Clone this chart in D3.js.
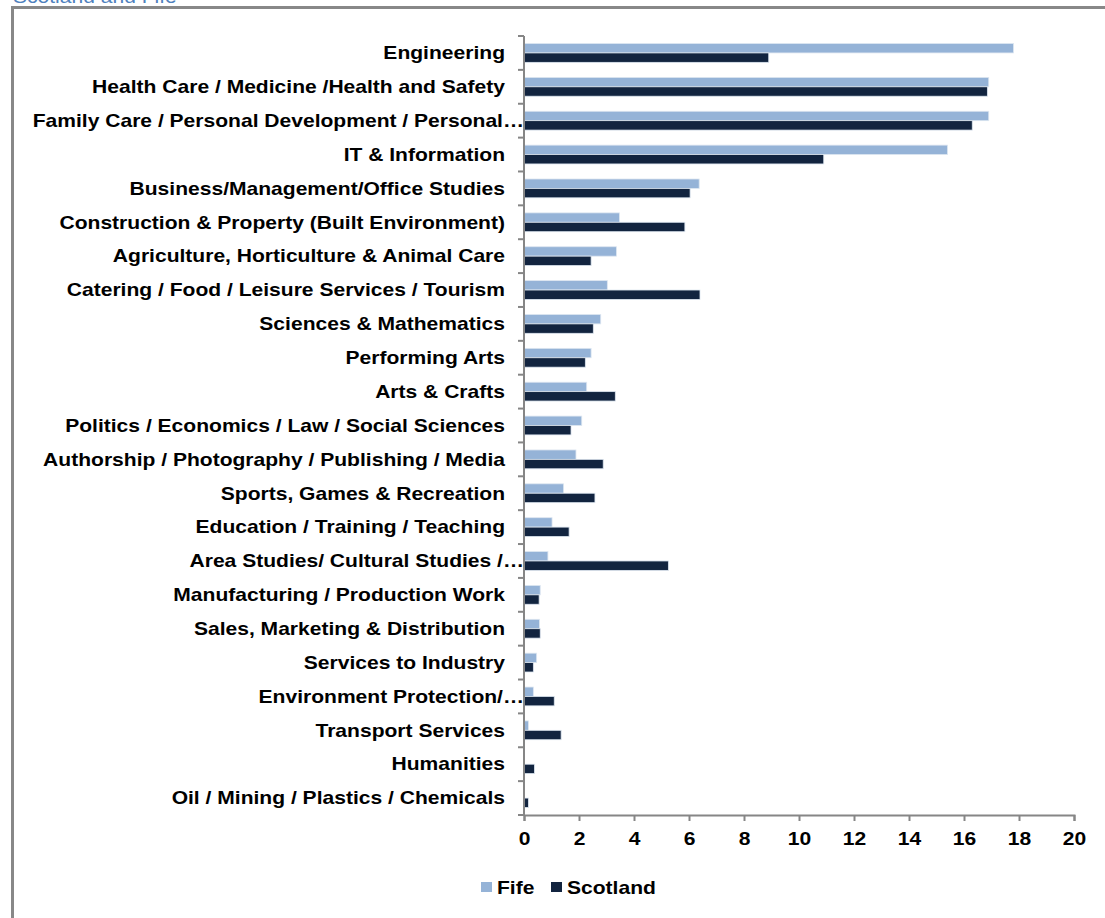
<!DOCTYPE html>
<html>
<head>
<meta charset="utf-8">
<script src="https://cdn.jsdelivr.net/npm/d3@7"></script>
<style>
    body { margin: 0; background: #fff; }
    svg { display: block; font-family: "Liberation Sans", Arial, sans-serif; }
    .cat-label { font-size: 18px; font-weight: bold; fill: #000; }
    .x-axis text { font-size: 18px; font-weight: bold; fill: #000; }
    .domain, .tick line { stroke: #868686; stroke-width: 2px; }
    .legend text { font-size: 18px; font-weight: bold; }
</style>
</head>
<body>
<svg id="chart" width="1105" height="918"></svg>
<script>
// Categories, top to bottom
const categories = [
    "Engineering",
    "Health Care / Medicine /Health and Safety",
    "Family Care / Personal Development / Personal…",
    "IT & Information",
    "Business/Management/Office Studies",
    "Construction & Property (Built Environment)",
    "Agriculture, Horticulture & Animal Care",
    "Catering / Food / Leisure Services / Tourism",
    "Sciences & Mathematics",
    "Performing Arts",
    "Arts & Crafts",
    "Politics / Economics / Law / Social Sciences",
    "Authorship / Photography / Publishing / Media",
    "Sports, Games & Recreation",
    "Education / Training / Teaching",
    "Area Studies/ Cultural Studies /…",
    "Manufacturing / Production Work",
    "Sales, Marketing & Distribution",
    "Services to Industry",
    "Environment Protection/…",
    "Transport Services",
    "Humanities ",
    "Oil / Mining / Plastics / Chemicals"
];

const fife = [17.8, 16.9, 16.9, 15.4, 6.37, 3.47, 3.36, 3.03, 2.79, 2.44, 2.28, 2.1, 1.89,
    1.44, 1.02, 0.87, 0.59, 0.56, 0.46, 0.34, 0.16, 0, 0];
const scotland = [8.9, 16.85, 16.3, 10.9, 6.04, 5.85, 2.44, 6.4, 2.52, 2.23, 3.32, 1.71, 2.88,
    2.58, 1.64, 5.25, 0.55, 0.59, 0.34, 1.1, 1.35, 0.38, 0.16];

const seriesNames = ["Fife", "Scotland"];
const xTicks = [0, 2, 4, 6, 8, 10, 12, 14, 16, 18, 20];

const colors = {Fife: "#95b3d7", Scotland: "#12243f"};

// the source picture is stretched sideways, so text is widened to match
const stretch = "scale(1.17,1)";

let svg = d3.select("#chart");

// Outer frame (cut at the page edge like the source)
svg.append("path")
    .attr("d", "M12.5,1000 V7.5 H1200")
    .attr("fill", "none")
    .attr("stroke", "#888")
    .attr("stroke-width", 3);

// Clipped title above the frame
svg.append("text")
    .attr("transform", "translate(13,3) " + stretch)
    .attr("fill", "#4f81bd")
    .style("font-size", "18px")
    .text("Scotland and Fife");

const plot = {left: 524, right: 1074, top: 36, bottom: 815};

let x = d3.scaleLinear().domain([0, 20]).range([plot.left, plot.right]);
let y = d3.scaleBand().domain(categories).range([plot.top, plot.bottom]);
let inner = d3.scaleBand().domain(seriesNames).range([0, y.bandwidth()]).paddingOuter(0.8);

let rows = categories.map((c, i) => ({cat: c, Fife: fife[i], Scotland: scotland[i]}));

// Bars
svg.append("g").selectAll("g")
    .data(rows)
    .enter()
    .append("g")
    .attr("transform", d => `translate(0,${y(d.cat)})`)
    .selectAll("rect")
    .data(d => seriesNames.map(s => ({key: s, value: d[s]})))
    .enter()
    .append("rect")
    .attr("x", x(0))
    .attr("y", d => inner(d.key))
    .attr("height", inner.bandwidth())
    .attr("width", d => x(d.value) - x(0))
    .attr("fill", d => colors[d.key])
    .attr("stroke", d => d.value > 0 ? "#dde6f0" : "none")
    .attr("stroke-width", 0.8);

// X axis
let xAxis = svg.append("g")
    .attr("class", "x-axis")
    .attr("transform", `translate(0,${plot.bottom})`)
    .call(d3.axisBottom(x).tickValues(xTicks).tickSize(6).tickSizeOuter(6).tickPadding(8));
xAxis.selectAll("text").attr("dy", "0.9em").attr("transform", stretch);

// Y axis: line plus ticks at category boundaries
let yAxis = svg.append("g");
yAxis.append("line")
    .attr("class", "domain")
    .attr("x1", plot.left).attr("x2", plot.left)
    .attr("y1", plot.top).attr("y2", plot.bottom);
yAxis.selectAll("line.tick-b")
    .data(d3.range(categories.length + 1))
    .enter()
    .append("line")
    .attr("class", "domain")
    .attr("x1", plot.left - 6).attr("x2", plot.left)
    .attr("y1", i => plot.top + i * y.step())
    .attr("y2", i => plot.top + i * y.step());

// Category labels (truncated ones run up to the axis, like Excel does)
svg.append("g").selectAll("text")
    .data(categories)
    .enter()
    .append("text")
    .attr("class", "cat-label")
    .attr("transform", d => {
        let ax = d.endsWith("…") ? 524 : 505;
        return `translate(${ax},${y(d) + y.bandwidth() / 2}) ${stretch}`;
    })
    .attr("dy", "0.35em")
    .attr("text-anchor", "end")
    .text(d => d);

// Legend
let legend = svg.append("g").attr("class", "legend");
let legendX = {Fife: 481, Scotland: 551};
seriesNames.forEach(s => {
    legend.append("rect")
        .attr("x", legendX[s]).attr("y", 882)
        .attr("width", 11).attr("height", 10)
        .attr("fill", colors[s]);
    legend.append("text")
        .attr("transform", `translate(${legendX[s] + 16},894) ${stretch}`)
        .text(s);
});
</script>
</body>
</html>
